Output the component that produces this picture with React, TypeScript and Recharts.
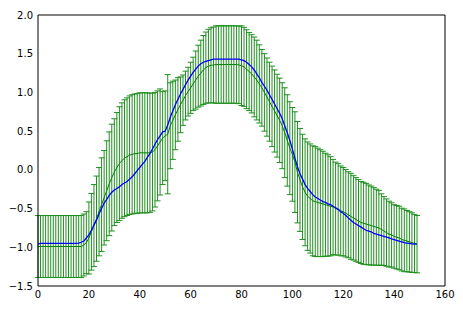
import { ErrorBar, Line, LineChart, XAxis, YAxis } from "recharts";

// sample index 0..149
const xValues = Array.from({ length: 150 }, (_, i) => i);

const xTicks = [0, 20, 40, 60, 80, 100, 120, 140, 160];
const yTicks = [-1.5, -1.0, -0.5, 0.0, 0.5, 1.0, 1.5, 2.0];

// green: observed mean
const greenMean = [
  -0.99, -0.99, -0.99, -0.99, -0.99, -0.99, -0.99, -0.99, -0.99, -0.99,
  -0.99, -0.99, -0.99, -0.99, -0.99, -0.99, -0.99, -0.99, -0.97, -0.94,
  -0.88, -0.8, -0.72, -0.63, -0.54, -0.45, -0.36, -0.27, -0.18, -0.1,
  -0.03, 0.03, 0.08, 0.12, 0.15, 0.17, 0.19, 0.2, 0.21, 0.21,
  0.22, 0.22, 0.22, 0.22, 0.22, 0.23, 0.26, 0.31, 0.36, 0.41,
  0.44, 0.46, 0.57, 0.64, 0.71, 0.78, 0.84, 0.9, 0.96, 1.01,
  1.06, 1.11, 1.16, 1.21, 1.25, 1.29, 1.32, 1.34, 1.35, 1.355,
  1.36, 1.36, 1.36, 1.36, 1.36, 1.36, 1.36, 1.36, 1.36, 1.355,
  1.345, 1.33, 1.3, 1.27, 1.24, 1.2, 1.16, 1.11, 1.06, 1.0,
  0.94, 0.88, 0.82, 0.76, 0.7, 0.64, 0.57, 0.48, 0.38, 0.28,
  0.2, 0.1, -0.03, -0.13, -0.22, -0.29, -0.34, -0.37, -0.4, -0.41,
  -0.42, -0.43, -0.44, -0.45, -0.46, -0.47, -0.48, -0.5, -0.51, -0.53,
  -0.54, -0.56, -0.58, -0.6, -0.62, -0.64, -0.66, -0.68, -0.69, -0.7,
  -0.71, -0.72, -0.73, -0.74, -0.75, -0.77, -0.79, -0.81, -0.83, -0.84,
  -0.86, -0.87, -0.88, -0.9, -0.91, -0.92, -0.93, -0.94, -0.95, -0.96,
];

// green: error bar half-length
const greenErr = [
  0.4, 0.4, 0.4, 0.4, 0.4, 0.4, 0.4, 0.4, 0.4, 0.4,
  0.4, 0.4, 0.4, 0.4, 0.4, 0.4, 0.4, 0.4, 0.4, 0.4,
  0.465, 0.495, 0.53, 0.55, 0.57, 0.605, 0.61, 0.645, 0.67, 0.69,
  0.69, 0.71, 0.735, 0.745, 0.755, 0.76, 0.765, 0.77, 0.77, 0.775,
  0.775, 0.775, 0.775, 0.775, 0.77, 0.76, 0.74, 0.71, 0.685, 0.6,
  0.58, 0.77, 0.555, 0.505, 0.45, 0.41, 0.36, 0.325, 0.315, 0.315,
  0.33, 0.345, 0.375, 0.4, 0.425, 0.445, 0.46, 0.475, 0.485, 0.49,
  0.5, 0.5, 0.5, 0.5, 0.5, 0.5, 0.5, 0.5, 0.5, 0.5,
  0.515, 0.51, 0.51, 0.505, 0.505, 0.515, 0.515, 0.505, 0.495, 0.5,
  0.505, 0.51, 0.52, 0.53, 0.535, 0.545, 0.555, 0.58, 0.59, 0.6,
  0.605, 0.65, 0.655, 0.665, 0.68, 0.69, 0.7, 0.705, 0.71, 0.71,
  0.7, 0.69, 0.68, 0.665, 0.655, 0.64, 0.615, 0.6, 0.59, 0.58,
  0.57, 0.565, 0.555, 0.555, 0.545, 0.54, 0.535, 0.53, 0.53, 0.525,
  0.515, 0.51, 0.5, 0.49, 0.485, 0.46, 0.445, 0.435, 0.425, 0.415,
  0.41, 0.41, 0.41, 0.405, 0.405, 0.395, 0.39, 0.385, 0.375, 0.37,
];

// blue: smooth fit
const blueFit = [
  -0.96, -0.95, -0.95, -0.95, -0.95, -0.95, -0.95, -0.95, -0.95, -0.95,
  -0.95, -0.95, -0.95, -0.95, -0.95, -0.95, -0.945, -0.935, -0.92, -0.88,
  -0.84, -0.78, -0.71, -0.65, -0.57, -0.5, -0.43, -0.38, -0.33, -0.29,
  -0.26, -0.24, -0.22, -0.19, -0.17, -0.15, -0.12, -0.09, -0.05, -0.01,
  0.03, 0.07, 0.11, 0.16, 0.21, 0.27, 0.33, 0.39, 0.44, 0.49,
  0.5, 0.58, 0.68, 0.76, 0.84, 0.91, 0.98, 1.04, 1.1, 1.16,
  1.21, 1.26, 1.3, 1.34, 1.37, 1.39, 1.4, 1.41, 1.42, 1.43,
  1.43, 1.43, 1.43, 1.43, 1.43, 1.43, 1.43, 1.43, 1.43, 1.43,
  1.42, 1.41, 1.39, 1.36, 1.33, 1.29, 1.24, 1.19, 1.13, 1.08,
  1.03, 0.97, 0.91, 0.85, 0.79, 0.73, 0.66, 0.57, 0.48, 0.38,
  0.27, 0.15, 0.04, -0.05, -0.12, -0.19, -0.24, -0.28, -0.32, -0.35,
  -0.37, -0.39, -0.41, -0.42, -0.44, -0.45, -0.47, -0.49, -0.51, -0.54,
  -0.56, -0.59, -0.62, -0.65, -0.68, -0.7, -0.72, -0.74, -0.76, -0.78,
  -0.79, -0.8, -0.82, -0.83, -0.84, -0.85, -0.86, -0.87, -0.88, -0.89,
  -0.9, -0.91, -0.92, -0.93, -0.94, -0.945, -0.95, -0.955, -0.96, -0.96,
];

const data = xValues.map((x, i) => ({
  x,
  mean: greenMean[i],
  err: greenErr[i],
  fit: blueFit[i],
}));

const font = { fontFamily: "DejaVu Sans", fontSize: 10, fill: "#000" };
const fmtY = (v: number) => v.toFixed(1).replace("-", "\u2212");

export default function App() {
  return (
    <div style={{ position: "absolute", left: 0, top: 0, background: "#fff" }}>
      <LineChart
        width={463}
        height={311}
        data={data}
        margin={{ top: 15, right: 18, bottom: 0, left: 0 }}
      >
        <XAxis
          xAxisId="x"
          dataKey="x"
          type="number"
          domain={[0, 160]}
          ticks={xTicks}
          height={25}
          tickSize={0}
          tickMargin={5}
          tickLine={false}
          axisLine={{ stroke: "#000" }}
          tick={font}
          interval={0}
        />
        <XAxis
          xAxisId="xb"
          dataKey="x"
          type="number"
          domain={[0, 160]}
          ticks={xTicks}
          orientation="bottom"
          mirror
          tick={false}
          tickSize={4}
          tickLine={{ stroke: "#000" }}
          axisLine={false}
        />
        <XAxis
          xAxisId="xt"
          dataKey="x"
          type="number"
          domain={[0, 160]}
          ticks={xTicks}
          orientation="top"
          mirror
          tick={false}
          tickSize={4}
          tickLine={{ stroke: "#000" }}
          axisLine={{ stroke: "#000" }}
        />
        <YAxis
          yAxisId="y"
          type="number"
          domain={[-1.5, 2]}
          ticks={yTicks}
          width={38}
          tickSize={0}
          tickMargin={5}
          tickLine={false}
          axisLine={{ stroke: "#000" }}
          tick={font}
          tickFormatter={fmtY}
          interval={0}
        />
        <YAxis
          yAxisId="yl"
          type="number"
          domain={[-1.5, 2]}
          ticks={yTicks}
          orientation="left"
          mirror
          tick={false}
          tickSize={4}
          tickLine={{ stroke: "#000" }}
          axisLine={false}
        />
        <YAxis
          yAxisId="yr"
          type="number"
          domain={[-1.5, 2]}
          ticks={yTicks}
          orientation="right"
          mirror
          tick={false}
          tickSize={4}
          tickLine={{ stroke: "#000" }}
          axisLine={{ stroke: "#000" }}
        />
        <Line
          xAxisId="x"
          yAxisId="y"
          dataKey="mean"
          type="linear"
          stroke="#008000"
          strokeWidth={1}
          dot={false}
          isAnimationActive={false}
        >
          <ErrorBar
            dataKey="err"
            direction="y"
            width={3}
            stroke="#1f8f1f"
            strokeWidth={1}
            isAnimationActive={false}
          />
        </Line>
        <Line
          xAxisId="x"
          yAxisId="y"
          dataKey="fit"
          type="linear"
          stroke="#0000ff"
          strokeWidth={1.3}
          dot={false}
          isAnimationActive={false}
        />
      </LineChart>
    </div>
  );
}
